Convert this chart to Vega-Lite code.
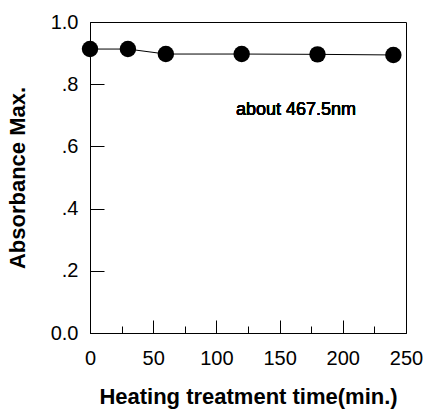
{
  "$schema": "https://vega.github.io/schema/vega-lite/v6.json",
  "width": 316,
  "height": 311,
  "autosize": {"type": "none"},
  "padding": {"left": 90, "top": 22, "right": 18, "bottom": 78},
  "background": "white",
  "config": {
    "font": "Liberation Sans",
    "view": {"stroke": "black", "strokeWidth": 1},
    "axis": {
      "domainColor": "black",
      "tickColor": "black",
      "labelColor": "black",
      "titleColor": "black",
      "grid": false,
      "labelFont": "Liberation Sans",
      "titleFont": "Liberation Sans",
      "labelFontSize": 20,
      "titleFontSize": 22,
      "titleFontWeight": "bold"
    }
  },
  "data": {
    "values": [
      {"time": 0, "abs": 0.913},
      {"time": 30, "abs": 0.913},
      {"time": 60, "abs": 0.897},
      {"time": 120, "abs": 0.897},
      {"time": 180, "abs": 0.896},
      {"time": 240, "abs": 0.894}
    ]
  },
  "resolve": {"scale": {"x": "independent"}, "axis": {"x": "independent"}},
  "layer": [
    {
      "mark": {"type": "line", "color": "black", "strokeWidth": 1},
      "encoding": {
        "x": {
          "field": "time", "type": "quantitative",
          "scale": {"domain": [0, 250], "nice": false, "zero": false},
          "axis": {
            "orient": "bottom",
            "values": [0, 50, 100, 150, 200, 250],
            "tickSize": -13,
            "labelPadding": 28,
            "labelFlush": false,
            "labelBaseline": "top",
            "title": "Heating treatment time(min.)",
            "titlePadding": 18
          }
        },
        "y": {
          "field": "abs", "type": "quantitative",
          "scale": {"domain": [0, 1], "nice": false},
          "axis": {
            "values": [0, 0.2, 0.4, 0.6, 0.8, 1.0],
            "tickSize": -14,
            "labelPadding": 26,
            "labelFlush": false,
            "labelExpr": "datum.value == 0 ? '0.0' : (datum.value == 1 ? '1.0' : replace(format(datum.value, '.1f'), '0.', '.'))",
            "title": "Absorbance Max.",
            "titlePadding": 21
          }
        }
      }
    },
    {
      "mark": {"type": "point", "filled": true, "color": "black", "opacity": 1, "size": 270},
      "encoding": {
        "x": {"field": "time", "type": "quantitative", "scale": {"domain": [0, 250], "nice": false, "zero": false}, "axis": null},
        "y": {"field": "abs", "type": "quantitative"}
      }
    },
    {
      "mark": {"type": "point", "opacity": 0},
      "encoding": {
        "x": {
          "field": "time", "type": "quantitative",
          "scale": {"domain": [0, 250], "nice": false, "zero": false},
          "axis": {
            "orient": "bottom",
            "values": [25, 75, 125, 175, 225],
            "tickSize": -7,
            "labels": false,
            "domain": false,
            "title": null
          }
        },
        "y": {"field": "abs", "type": "quantitative"}
      }
    },
    {
      "mark": {"type": "text", "align": "left", "baseline": "alphabetic", "fontSize": 18, "font": "Liberation Sans", "color": "black"},
      "encoding": {
        "x": {"datum": 115.5, "type": "quantitative", "scale": {"domain": [0, 250], "nice": false, "zero": false}, "axis": null},
        "y": {"datum": 0.7, "type": "quantitative"},
        "text": {"value": "about 467.5nm"}
      }
    }
  ]
}
